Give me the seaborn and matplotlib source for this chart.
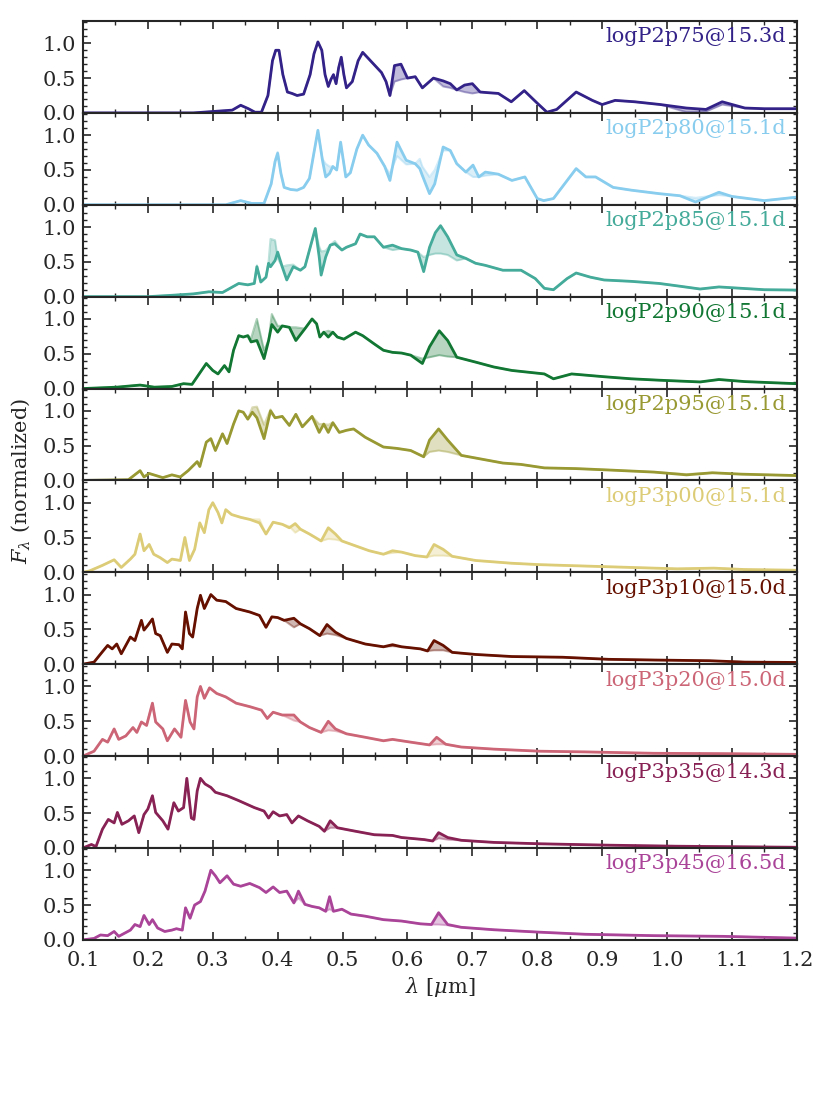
import numpy as np
import pandas as pd
import seaborn as sns
import matplotlib.pyplot as plt
from matplotlib.ticker import MultipleLocator, FormatStrFormatter

# model names and colours (top to bottom)
names = ["logP2p75@15.3d", "logP2p80@15.1d", "logP2p85@15.1d", "logP2p90@15.1d",
         "logP2p95@15.1d", "logP3p00@15.1d", "logP3p10@15.0d", "logP3p20@15.0d",
         "logP3p35@14.3d", "logP3p45@16.5d"]
colors = ["#332288", "#88CCEE", "#44AA99", "#117733", "#999933",
          "#DDCC77", "#661100", "#CC6677", "#882255", "#AA4499"]

# logP2p75
lam_275 = [0.10, 0.20, 0.27, 0.30, 0.33, 0.343, 0.355, 0.365, 0.375, 0.385,
           0.392, 0.397, 0.402, 0.408, 0.415, 0.422, 0.43, 0.44, 0.45, 0.456,
           0.462, 0.468, 0.473, 0.478, 0.482, 0.486, 0.49, 0.494, 0.498, 0.502,
           0.506, 0.515, 0.524, 0.531, 0.54, 0.55, 0.56, 0.567, 0.573, 0.58,
           0.59, 0.60, 0.612, 0.623, 0.64, 0.655, 0.666, 0.676, 0.688, 0.70,
           0.712, 0.725, 0.74, 0.76, 0.78, 0.80, 0.815, 0.83, 0.86, 0.885,
           0.90, 0.92, 0.95, 0.99, 1.03, 1.06, 1.085, 1.12, 1.15, 1.20]
f_275 = [0.0, 0.0, 0.0, 0.02, 0.04, 0.11, 0.06, 0.01, 0.01, 0.25,
         0.75, 0.90, 0.90, 0.55, 0.30, 0.28, 0.25, 0.27, 0.55, 0.85,
         1.02, 0.90, 0.55, 0.38, 0.48, 0.55, 0.42, 0.65, 0.80, 0.55,
         0.36, 0.45, 0.75, 0.87, 0.78, 0.68, 0.58, 0.45, 0.25, 0.68,
         0.70, 0.50, 0.52, 0.36, 0.50, 0.46, 0.42, 0.33, 0.40, 0.42,
         0.30, 0.29, 0.28, 0.16, 0.32, 0.14, 0.01, 0.05, 0.30, 0.18,
         0.12, 0.18, 0.16, 0.12, 0.07, 0.05, 0.16, 0.07, 0.06, 0.06]
g_275 = [0.0, 0.0, 0.0, 0.02, 0.04, 0.11, 0.06, 0.01, 0.01, 0.25,
         0.75, 0.90, 0.90, 0.55, 0.30, 0.28, 0.25, 0.27, 0.55, 0.85,
         1.02, 0.90, 0.55, 0.38, 0.48, 0.55, 0.42, 0.65, 0.80, 0.55,
         0.36, 0.45, 0.75, 0.87, 0.78, 0.68, 0.58, 0.45, 0.25, 0.45,
         0.48, 0.50, 0.52, 0.36, 0.50, 0.38, 0.36, 0.33, 0.30, 0.28,
         0.30, 0.29, 0.28, 0.16, 0.32, 0.14, 0.01, 0.05, 0.30, 0.18,
         0.12, 0.18, 0.16, 0.12, 0.01, 0.02, 0.12, 0.07, 0.06, 0.06]

# logP2p80
lam_280 = [0.10, 0.25, 0.32, 0.343, 0.36, 0.379, 0.39, 0.396, 0.40, 0.405,
           0.41, 0.42, 0.43, 0.44, 0.449, 0.455, 0.462, 0.469, 0.474, 0.48,
           0.485, 0.491, 0.497, 0.505, 0.512, 0.522, 0.531, 0.54, 0.553, 0.565,
           0.573, 0.584, 0.598, 0.612, 0.619, 0.623, 0.634, 0.642, 0.655, 0.666,
           0.676, 0.69, 0.701, 0.71, 0.72, 0.74, 0.761, 0.781, 0.80, 0.81,
           0.825, 0.86, 0.875, 0.89, 0.917, 0.945, 0.988, 1.02, 1.044, 1.08,
           1.10, 1.15, 1.20]
f_280 = [0.0, 0.0, 0.0, 0.06, 0.02, 0.02, 0.30, 0.62, 0.74, 0.45,
         0.25, 0.22, 0.21, 0.25, 0.38, 0.70, 1.07, 0.64, 0.40, 0.45,
         0.55, 0.50, 0.90, 0.40, 0.46, 0.80, 1.0, 0.86, 0.74, 0.55,
         0.35, 0.90, 0.64, 0.59, 0.52, 0.42, 0.16, 0.30, 0.83, 0.78,
         0.59, 0.47, 0.57, 0.40, 0.47, 0.44, 0.35, 0.40, 0.09, 0.06,
         0.09, 0.52, 0.40, 0.40, 0.25, 0.21, 0.16, 0.13, 0.04, 0.18,
         0.12, 0.06, 0.11]
g_280 = [0.0, 0.0, 0.0, 0.06, 0.02, 0.02, 0.30, 0.64, 0.76, 0.45,
         0.25, 0.22, 0.21, 0.25, 0.38, 0.70, 1.05, 0.66, 0.59, 0.55,
         0.55, 0.50, 0.88, 0.40, 0.46, 0.80, 1.0, 0.86, 0.74, 0.55,
         0.45, 0.70, 0.58, 0.59, 0.66, 0.55, 0.40, 0.50, 0.78, 0.78,
         0.59, 0.47, 0.40, 0.40, 0.42, 0.44, 0.35, 0.40, 0.09, 0.06,
         0.09, 0.52, 0.40, 0.40, 0.25, 0.21, 0.16, 0.13, 0.10, 0.14,
         0.12, 0.06, 0.11]

# logP2p85
lam_285 = [0.10, 0.20, 0.237, 0.27, 0.294, 0.315, 0.34, 0.354, 0.364, 0.368,
           0.374, 0.382, 0.386, 0.389, 0.396, 0.40, 0.407, 0.414, 0.424, 0.435,
           0.442, 0.449, 0.458, 0.464, 0.467, 0.474, 0.481, 0.488, 0.499, 0.506,
           0.52, 0.527, 0.538, 0.549, 0.563, 0.577, 0.591, 0.605, 0.616, 0.625,
           0.634, 0.643, 0.651, 0.662, 0.676, 0.69, 0.705, 0.72, 0.747, 0.775,
           0.797, 0.811, 0.825, 0.846, 0.86, 0.882, 0.903, 0.945, 0.988, 1.02,
           1.051, 1.08, 1.115, 1.15, 1.20]
f_285 = [0.0, 0.0, 0.02, 0.04, 0.07, 0.06, 0.19, 0.17, 0.19, 0.43,
         0.21, 0.28, 0.48, 0.43, 0.52, 0.64, 0.43, 0.24, 0.43, 0.38,
         0.43, 0.67, 0.98, 0.57, 0.31, 0.57, 0.74, 0.76, 0.67, 0.71,
         0.76, 0.90, 0.86, 0.86, 0.71, 0.74, 0.69, 0.67, 0.64, 0.36,
         0.71, 0.92, 1.02, 0.86, 0.60, 0.55, 0.48, 0.45, 0.38, 0.38,
         0.26, 0.12, 0.10, 0.26, 0.34, 0.28, 0.24, 0.22, 0.19, 0.15,
         0.11, 0.14, 0.12, 0.10, 0.095]
g_285 = [0.0, 0.0, 0.02, 0.04, 0.07, 0.06, 0.19, 0.17, 0.19, 0.45,
         0.21, 0.28, 0.50, 0.83, 0.81, 0.55, 0.43, 0.45, 0.46, 0.38,
         0.43, 0.67, 0.96, 0.72, 0.65, 0.66, 0.74, 0.80, 0.67, 0.71,
         0.76, 0.90, 0.86, 0.86, 0.71, 0.67, 0.69, 0.67, 0.64, 0.57,
         0.60, 0.62, 0.62, 0.60, 0.52, 0.55, 0.48, 0.45, 0.38, 0.38,
         0.26, 0.12, 0.10, 0.26, 0.34, 0.28, 0.24, 0.22, 0.19, 0.15,
         0.11, 0.14, 0.12, 0.10, 0.095]

# logP2p90
lam_290 = [0.10, 0.152, 0.188, 0.21, 0.237, 0.255, 0.268, 0.29, 0.30, 0.308,
           0.318, 0.325, 0.332, 0.34, 0.347, 0.354, 0.359, 0.368, 0.379, 0.386,
           0.391, 0.40, 0.407, 0.418, 0.428, 0.442, 0.453, 0.46, 0.465, 0.471,
           0.478, 0.485, 0.492, 0.502, 0.52, 0.531, 0.549, 0.563, 0.577, 0.591,
           0.605, 0.623, 0.634, 0.649, 0.662, 0.676, 0.705, 0.733, 0.761, 0.811,
           0.825, 0.853, 0.903, 0.945, 0.988, 1.051, 1.08, 1.12, 1.20]
f_290 = [0.0, 0.02, 0.05, 0.02, 0.03, 0.07, 0.06, 0.36, 0.26, 0.21,
         0.33, 0.24, 0.55, 0.76, 0.74, 0.76, 0.67, 0.69, 0.43, 0.69,
         0.92, 0.81, 0.90, 0.88, 0.69, 0.86, 1.0, 0.93, 0.74, 0.81,
         0.74, 0.81, 0.74, 0.71, 0.81, 0.76, 0.64, 0.55, 0.52, 0.51,
         0.48, 0.36, 0.60, 0.83, 0.69, 0.45, 0.38, 0.31, 0.26, 0.21,
         0.14, 0.21, 0.17, 0.14, 0.12, 0.095, 0.13, 0.10, 0.07]
g_290 = [0.0, 0.02, 0.05, 0.02, 0.03, 0.07, 0.06, 0.36, 0.26, 0.21,
         0.33, 0.24, 0.55, 0.76, 0.74, 0.76, 0.72, 1.0, 0.55, 0.69,
         1.07, 0.90, 0.90, 0.88, 0.88, 0.86, 1.0, 0.93, 0.74, 0.81,
         0.83, 0.81, 0.74, 0.71, 0.81, 0.76, 0.64, 0.55, 0.52, 0.51,
         0.48, 0.43, 0.45, 0.48, 0.46, 0.45, 0.38, 0.31, 0.26, 0.21,
         0.14, 0.21, 0.17, 0.14, 0.12, 0.095, 0.13, 0.10, 0.07]

# logP2p95
lam_295 = [0.10, 0.17, 0.188, 0.194, 0.202, 0.223, 0.237, 0.25, 0.262, 0.276,
           0.28, 0.29, 0.297, 0.304, 0.315, 0.322, 0.332, 0.34, 0.347, 0.354,
           0.361, 0.368, 0.379, 0.389, 0.396, 0.407, 0.418, 0.428, 0.438, 0.453,
           0.464, 0.471, 0.478, 0.485, 0.495, 0.506, 0.517, 0.535, 0.563, 0.584,
           0.605, 0.625, 0.634, 0.648, 0.662, 0.683, 0.712, 0.747, 0.775, 0.811,
           0.86, 0.91, 0.98, 1.03, 1.07, 1.115, 1.20]
f_295 = [0.0, 0.01, 0.14, 0.05, 0.10, 0.04, 0.08, 0.05, 0.14, 0.27,
         0.20, 0.55, 0.60, 0.43, 0.67, 0.53, 0.81, 1.0, 0.98, 0.88,
         0.98, 0.90, 0.60, 1.0, 0.90, 0.92, 0.79, 0.95, 0.77, 0.92,
         0.69, 0.81, 0.69, 0.83, 0.69, 0.72, 0.74, 0.62, 0.48, 0.46,
         0.43, 0.34, 0.58, 0.74, 0.58, 0.36, 0.31, 0.25, 0.23, 0.18,
         0.17, 0.15, 0.12, 0.08, 0.11, 0.09, 0.07]
g_295 = [0.0, 0.01, 0.14, 0.05, 0.10, 0.04, 0.08, 0.05, 0.14, 0.27,
         0.20, 0.55, 0.60, 0.43, 0.67, 0.53, 0.81, 1.0, 0.98, 0.88,
         1.05, 1.06, 0.80, 1.02, 0.90, 0.92, 0.79, 0.95, 0.77, 0.92,
         0.81, 0.81, 0.80, 0.83, 0.69, 0.72, 0.74, 0.62, 0.48, 0.46,
         0.43, 0.34, 0.41, 0.43, 0.41, 0.36, 0.31, 0.25, 0.23, 0.18,
         0.17, 0.15, 0.12, 0.09, 0.11, 0.09, 0.07]

# logP3p00
lam_300 = [0.10, 0.11, 0.13, 0.148, 0.159, 0.173, 0.18, 0.188, 0.194, 0.202,
           0.209, 0.219, 0.23, 0.237, 0.25, 0.257, 0.264, 0.272, 0.28, 0.287,
           0.294, 0.30, 0.308, 0.314, 0.32, 0.329, 0.343, 0.357, 0.372, 0.382,
           0.393, 0.407, 0.418, 0.427, 0.435, 0.449, 0.467, 0.478, 0.489, 0.499,
           0.52, 0.541, 0.563, 0.577, 0.591, 0.612, 0.63, 0.641, 0.655, 0.669,
           0.705, 0.761, 0.804, 0.874, 0.945, 1.016, 1.072, 1.12, 1.20]
f_300 = [0.0, 0.02, 0.10, 0.18, 0.07, 0.19, 0.26, 0.55, 0.31, 0.40,
         0.26, 0.21, 0.14, 0.19, 0.17, 0.50, 0.17, 0.33, 0.71, 0.57,
         0.90, 1.0, 0.86, 0.71, 0.90, 0.83, 0.79, 0.76, 0.71, 0.55,
         0.72, 0.69, 0.64, 0.70, 0.62, 0.55, 0.45, 0.64, 0.55, 0.45,
         0.38, 0.31, 0.26, 0.31, 0.29, 0.24, 0.22, 0.40, 0.33, 0.23,
         0.17, 0.13, 0.11, 0.09, 0.07, 0.05, 0.06, 0.04, 0.03]
g_300 = [0.0, 0.02, 0.10, 0.18, 0.07, 0.19, 0.26, 0.55, 0.31, 0.40,
         0.26, 0.21, 0.14, 0.19, 0.17, 0.50, 0.17, 0.33, 0.71, 0.57,
         0.90, 1.0, 0.86, 0.71, 0.90, 0.83, 0.79, 0.76, 0.76, 0.55,
         0.72, 0.69, 0.66, 0.57, 0.62, 0.55, 0.45, 0.48, 0.47, 0.45,
         0.38, 0.31, 0.26, 0.28, 0.29, 0.24, 0.22, 0.24, 0.24, 0.23,
         0.17, 0.13, 0.11, 0.09, 0.07, 0.05, 0.06, 0.04, 0.03]

# logP3p10
lam_310 = [0.10, 0.117, 0.13, 0.138, 0.145, 0.152, 0.159, 0.173, 0.18, 0.19,
           0.194, 0.20, 0.207, 0.212, 0.219, 0.23, 0.237, 0.248, 0.253, 0.258,
           0.264, 0.269, 0.276, 0.281, 0.287, 0.297, 0.306, 0.32, 0.336, 0.357,
           0.372, 0.382, 0.391, 0.40, 0.41, 0.425, 0.435, 0.449, 0.465, 0.476,
           0.489, 0.506, 0.535, 0.563, 0.577, 0.591, 0.62, 0.631, 0.641, 0.655,
           0.669, 0.705, 0.761, 0.839, 0.91, 0.98, 1.065, 1.12, 1.20]
f_310 = [0.0, 0.03, 0.18, 0.27, 0.22, 0.29, 0.15, 0.39, 0.34, 0.63,
         0.49, 0.56, 0.65, 0.44, 0.41, 0.17, 0.29, 0.28, 0.22, 0.75,
         0.44, 0.39, 0.80, 0.99, 0.80, 1.0, 0.92, 0.90, 0.80, 0.75,
         0.70, 0.53, 0.68, 0.67, 0.63, 0.66, 0.58, 0.51, 0.41, 0.57,
         0.46, 0.37, 0.29, 0.25, 0.28, 0.25, 0.22, 0.19, 0.34, 0.27,
         0.17, 0.14, 0.11, 0.10, 0.07, 0.06, 0.05, 0.03, 0.025]
g_310 = [0.0, 0.03, 0.18, 0.27, 0.22, 0.29, 0.15, 0.39, 0.34, 0.63,
         0.49, 0.56, 0.65, 0.44, 0.41, 0.17, 0.29, 0.28, 0.22, 0.75,
         0.44, 0.39, 0.80, 0.99, 0.80, 1.0, 0.92, 0.90, 0.80, 0.75,
         0.70, 0.53, 0.68, 0.67, 0.63, 0.53, 0.58, 0.51, 0.41, 0.44,
         0.42, 0.37, 0.29, 0.25, 0.26, 0.25, 0.22, 0.19, 0.20, 0.20,
         0.17, 0.14, 0.11, 0.10, 0.07, 0.06, 0.05, 0.03, 0.025]

# logP3p20
lam_320 = [0.10, 0.117, 0.13, 0.138, 0.148, 0.155, 0.166, 0.177, 0.183, 0.19,
           0.198, 0.207, 0.212, 0.223, 0.23, 0.241, 0.251, 0.258, 0.265, 0.271,
           0.276, 0.281, 0.287, 0.295, 0.306, 0.32, 0.336, 0.357, 0.375, 0.384,
           0.393, 0.407, 0.425, 0.435, 0.449, 0.467, 0.478, 0.489, 0.506, 0.535,
           0.563, 0.577, 0.605, 0.634, 0.645, 0.659, 0.683, 0.733, 0.804, 0.874,
           0.98, 1.087, 1.20]
f_320 = [0.0, 0.07, 0.24, 0.20, 0.39, 0.24, 0.29, 0.41, 0.34, 0.49,
         0.44, 0.76, 0.49, 0.39, 0.22, 0.39, 0.27, 0.80, 0.49, 0.39,
         0.85, 1.0, 0.83, 0.98, 0.90, 0.85, 0.76, 0.71, 0.66, 0.54,
         0.63, 0.59, 0.59, 0.49, 0.41, 0.34, 0.50, 0.39, 0.32, 0.27,
         0.22, 0.24, 0.20, 0.16, 0.27, 0.17, 0.13, 0.10, 0.07, 0.06,
         0.04, 0.035, 0.025]
g_320 = [0.0, 0.07, 0.24, 0.20, 0.39, 0.24, 0.29, 0.41, 0.34, 0.49,
         0.44, 0.76, 0.49, 0.39, 0.22, 0.39, 0.27, 0.80, 0.49, 0.39,
         0.85, 1.0, 0.83, 0.98, 0.90, 0.85, 0.76, 0.71, 0.66, 0.54,
         0.63, 0.59, 0.51, 0.49, 0.41, 0.34, 0.37, 0.36, 0.32, 0.27,
         0.22, 0.24, 0.20, 0.16, 0.17, 0.17, 0.13, 0.10, 0.07, 0.06,
         0.04, 0.035, 0.025]

# logP3p35
lam_335 = [0.10, 0.113, 0.12, 0.13, 0.139, 0.148, 0.153, 0.16, 0.17, 0.179,
           0.186, 0.194, 0.20, 0.207, 0.212, 0.223, 0.231, 0.24, 0.247, 0.255,
           0.26, 0.267, 0.271, 0.276, 0.281, 0.288, 0.297, 0.304, 0.322, 0.34,
           0.364, 0.379, 0.386, 0.393, 0.403, 0.414, 0.422, 0.432, 0.446, 0.464,
           0.472, 0.481, 0.492, 0.52, 0.549, 0.577, 0.591, 0.626, 0.639, 0.648,
           0.662, 0.683, 0.733, 0.804, 0.91, 1.016, 1.20]
f_335 = [0.0, 0.05, 0.02, 0.27, 0.41, 0.36, 0.51, 0.34, 0.39, 0.46,
         0.22, 0.48, 0.56, 0.75, 0.51, 0.39, 0.27, 0.65, 0.53, 0.58,
         1.0, 0.43, 0.41, 0.82, 1.0, 0.92, 0.87, 0.80, 0.75, 0.68,
         0.58, 0.53, 0.43, 0.52, 0.46, 0.48, 0.36, 0.46, 0.39, 0.31,
         0.24, 0.39, 0.29, 0.24, 0.19, 0.18, 0.15, 0.12, 0.10, 0.22,
         0.15, 0.11, 0.08, 0.06, 0.04, 0.025, 0.01]
g_335 = [0.0, 0.05, 0.02, 0.27, 0.41, 0.36, 0.51, 0.34, 0.39, 0.46,
         0.22, 0.48, 0.56, 0.75, 0.51, 0.39, 0.27, 0.65, 0.53, 0.58,
         1.0, 0.43, 0.41, 0.82, 1.0, 0.92, 0.87, 0.80, 0.75, 0.68,
         0.58, 0.53, 0.43, 0.52, 0.46, 0.48, 0.36, 0.46, 0.39, 0.31,
         0.24, 0.29, 0.29, 0.24, 0.19, 0.18, 0.15, 0.12, 0.10, 0.14,
         0.12, 0.11, 0.08, 0.06, 0.04, 0.025, 0.01]

# logP3p45
lam_345 = [0.10, 0.117, 0.127, 0.138, 0.148, 0.155, 0.173, 0.18, 0.188, 0.194,
           0.202, 0.207, 0.215, 0.226, 0.237, 0.244, 0.253, 0.258, 0.265, 0.272,
           0.281, 0.288, 0.297, 0.304, 0.311, 0.322, 0.332, 0.343, 0.357, 0.372,
           0.382, 0.393, 0.403, 0.414, 0.425, 0.432, 0.442, 0.453, 0.464, 0.474,
           0.48, 0.486, 0.499, 0.513, 0.535, 0.563, 0.591, 0.62, 0.637, 0.648,
           0.662, 0.683, 0.733, 0.804, 0.874, 0.98, 1.087, 1.20]
f_345 = [0.0, 0.02, 0.07, 0.06, 0.12, 0.05, 0.14, 0.22, 0.19, 0.35,
         0.22, 0.29, 0.17, 0.12, 0.14, 0.16, 0.14, 0.46, 0.31, 0.50,
         0.55, 0.70, 1.0, 0.92, 0.82, 0.92, 0.80, 0.77, 0.81, 0.75,
         0.68, 0.76, 0.68, 0.70, 0.53, 0.70, 0.51, 0.48, 0.46, 0.41,
         0.62, 0.41, 0.44, 0.37, 0.34, 0.29, 0.27, 0.23, 0.22, 0.39,
         0.22, 0.18, 0.145, 0.11, 0.08, 0.06, 0.05, 0.025]
g_345 = [0.0, 0.02, 0.07, 0.06, 0.12, 0.05, 0.14, 0.22, 0.19, 0.35,
         0.22, 0.29, 0.17, 0.12, 0.14, 0.16, 0.14, 0.46, 0.31, 0.50,
         0.55, 0.70, 1.0, 0.92, 0.82, 0.92, 0.80, 0.77, 0.81, 0.75,
         0.68, 0.76, 0.68, 0.70, 0.53, 0.60, 0.51, 0.48, 0.46, 0.41,
         0.44, 0.41, 0.44, 0.37, 0.34, 0.29, 0.27, 0.23, 0.22, 0.22,
         0.21, 0.18, 0.145, 0.11, 0.08, 0.06, 0.05, 0.025]

lams = [lam_275, lam_280, lam_285, lam_290, lam_295, lam_300, lam_310, lam_320, lam_335, lam_345]
fluxes = [f_275, f_280, f_285, f_290, f_295, f_300, f_310, f_320, f_335, f_345]
fluxes_alt = [g_275, g_280, g_285, g_290, g_295, g_300, g_310, g_320, g_335, g_345]

sns.set_style("ticks")
plt.rcParams["font.family"] = ["DejaVu Serif"]
plt.rcParams["mathtext.fontset"] = "dejavuserif"

fig, axes = plt.subplots(10, 1, figsize=(8.3, 11.07), dpi=100, sharex=True)
fig.subplots_adjust(left=0.1, right=0.96, top=0.981, bottom=0.151, hspace=0)

for ax, name, c, lam, f, g in zip(axes, names, colors, lams, fluxes, fluxes_alt):
    ax.fill_between(lam, f, g, color=c, alpha=0.3, lw=0)
    sns.lineplot(x=lam, y=g, color=c, alpha=0.35, lw=1.5, ax=ax)
    sns.lineplot(x=lam, y=f, color=c, lw=2, ax=ax)
    ax.text(0.985, 0.93, name, color=c, fontsize=15, ha="right", va="top",
            transform=ax.transAxes)
    ax.set_xlim(0.1, 1.2)
    ax.set_ylim(0, 1.32)
    ax.set_yticks([0.0, 0.5, 1.0])
    ax.yaxis.set_minor_locator(MultipleLocator(0.1))
    ax.xaxis.set_major_locator(MultipleLocator(0.1))
    ax.xaxis.set_minor_locator(MultipleLocator(0.05))
    ax.xaxis.set_major_formatter(FormatStrFormatter("%.1f"))
    ax.yaxis.set_major_formatter(FormatStrFormatter("%.1f"))
    ax.tick_params(which="both", direction="in", top=True, right=True, labelsize=15)
    ax.tick_params(which="major", length=6, width=1.2)
    ax.tick_params(which="minor", length=3, width=1)
    ax.tick_params(axis="x", which="major", pad=8)
    ax.tick_params(axis="y", which="major", pad=5)
    for sp in ax.spines.values():
        sp.set_linewidth(1.5)
    ax.set_xlabel("")
    ax.set_ylabel("")

fig.text(0.025, 0.566, r"$F_\lambda$ (normalized)", rotation=90, fontsize=15,
         ha="center", va="center")
fig.text(0.53, 0.108, r"$\lambda$ [$\mu$m]", fontsize=15, ha="center", va="center")

fig.savefig("out.png", dpi=100)
